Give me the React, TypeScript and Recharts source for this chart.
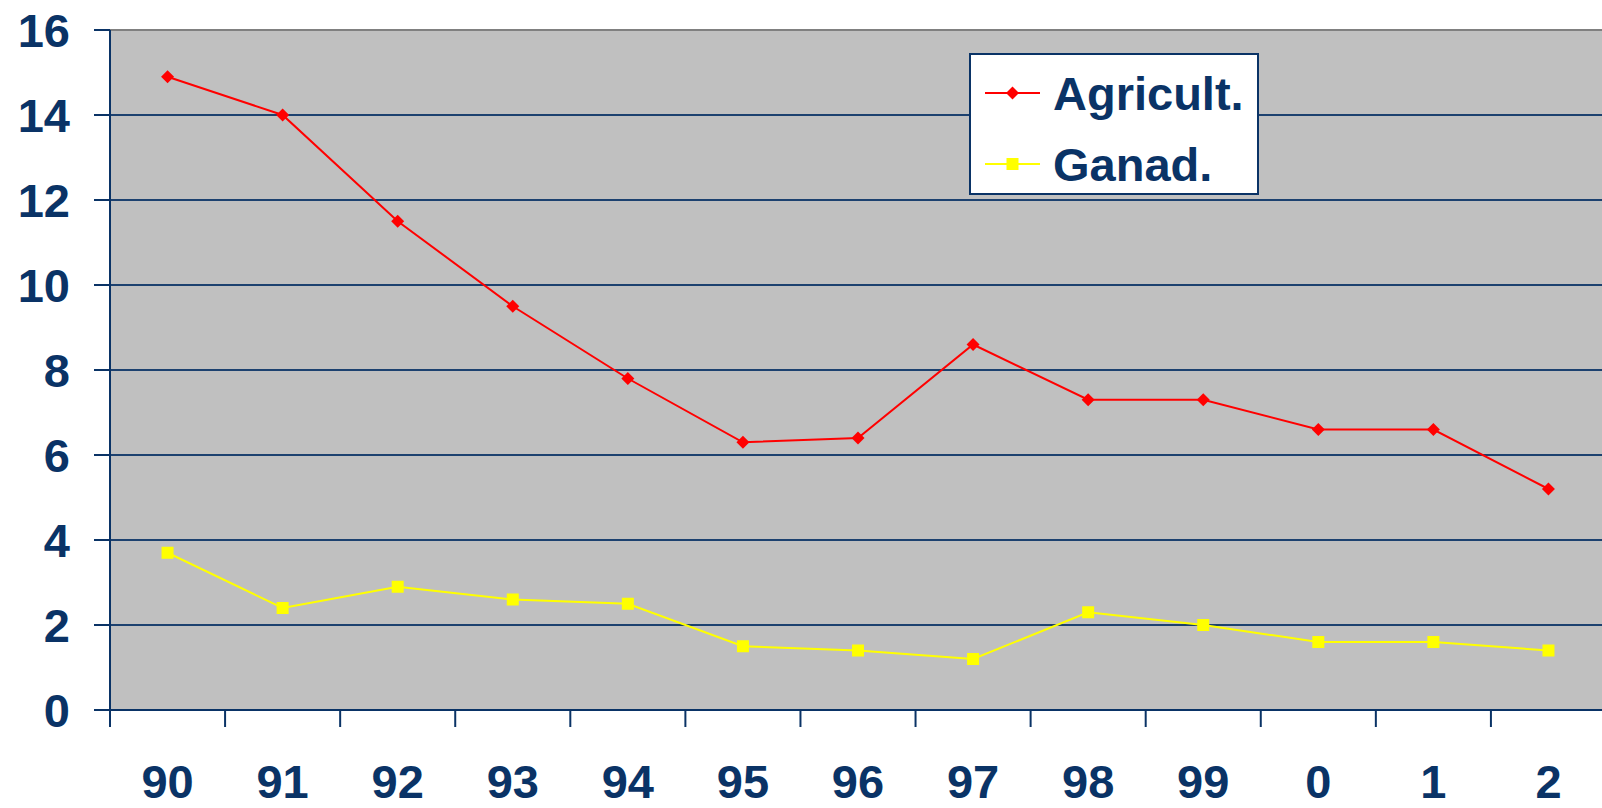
import React from 'react'
import { LineChart, Line, XAxis, YAxis, CartesianGrid, ReferenceLine } from 'recharts'

const years = ['90', '91', '92', '93', '94', '95', '96', '97', '98', '99', '0', '1', '2']
const agricult = [14.9, 14.0, 11.5, 9.5, 7.8, 6.3, 6.4, 8.6, 7.3, 7.3, 6.6, 6.6, 5.2]
const ganad = [3.7, 2.4, 2.9, 2.6, 2.5, 1.5, 1.4, 1.2, 2.3, 2.0, 1.6, 1.6, 1.4]
const yTicks = [0, 2, 4, 6, 8, 10, 12, 14, 16]
const seriesNames = ['Agricult.', 'Ganad.']

const NAVY = '#0a3366'
const FONT = '"Liberation Sans", Arial, sans-serif'
const W = 1602
const H = 808
const LEFT = 110
const RIGHT = -4 // plot runs slightly past the right edge, as in the original
const band = (W - LEFT - RIGHT) / years.length

const chartData = years.map((y, i) => ({ year: y, agricult: agricult[i], ganad: ganad[i] }))

const DiamondDot = (props: any) => {
  const { cx, cy, index } = props
  const r = 6.5
  return (
    <polygon
      key={`d-${index}`}
      points={`${cx},${cy - r} ${cx + r},${cy} ${cx},${cy + r} ${cx - r},${cy}`}
      fill="#ff0000"
    />
  )
}

const SquareDot = (props: any) => {
  const { cx, cy, index } = props
  return <rect key={`s-${index}`} x={cx - 6} y={cy - 6} width={12} height={12} fill="#ffff00" />
}

// labels centred on category, tick marks on category boundaries
const XTick = (props: any) => {
  const { x, y, payload } = props
  const bx = x - band / 2
  return (
    <g>
      <line x1={bx} y1={y} x2={bx} y2={y + 17} stroke={NAVY} strokeWidth={2} />
      <text x={x} y={y + 88} textAnchor="middle" fill={NAVY} fontSize={47} fontWeight="bold" fontFamily={FONT}>
        {payload.value}
      </text>
    </g>
  )
}

const LegendBox = () => (
  <svg width={290} height={142}>
    <rect x={1} y={1} width={288} height={140} fill="#ffffff" stroke={NAVY} strokeWidth={2} />
    <line x1={16} y1={40} x2={71} y2={40} stroke="#ff0000" strokeWidth={2} />
    <polygon points="43.5,33.5 50,40 43.5,46.5 37,40" fill="#ff0000" />
    <text x={84} y={57} fill={NAVY} fontSize={47} fontWeight="bold" fontFamily={FONT}>{seriesNames[0]}</text>
    <line x1={16} y1={111} x2={71} y2={111} stroke="#ffff00" strokeWidth={2} />
    <rect x={37.5} y={105} width={12} height={12} fill="#ffff00" />
    <text x={84} y={128} fill={NAVY} fontSize={47} fontWeight="bold" fontFamily={FONT}>{seriesNames[1]}</text>
  </svg>
)

export default function App() {
  return (
    <div style={{ position: 'absolute', left: 0, top: 0, width: W, height: H, background: '#fff', overflow: 'hidden' }}>
      <LineChart width={W} height={H} data={chartData} margin={{ top: 30, right: RIGHT, left: 0, bottom: 0 }}>
        <CartesianGrid vertical={false} fill="#c0c0c0" stroke={NAVY} strokeWidth={2} strokeOpacity={0.9} />
        <ReferenceLine y={16} stroke="#808080" strokeWidth={2} />
        <XAxis
          dataKey="year"
          scale="band"
          height={98}
          axisLine={{ stroke: NAVY, strokeWidth: 2 }}
          tickLine={false}
          tickSize={0}
          tickMargin={0}
          tick={<XTick />}
          interval={0}
        />
        <YAxis
          width={LEFT}
          domain={[0, 16]}
          ticks={yTicks}
          interval={0}
          axisLine={{ stroke: NAVY, strokeWidth: 2 }}
          tickLine={{ stroke: NAVY, strokeWidth: 2 }}
          tickSize={16}
          tickMargin={24}
          tick={{ fill: NAVY, fontSize: 47, fontWeight: 'bold', fontFamily: FONT }}
        />
        <Line
          type="linear"
          dataKey="agricult"
          name={seriesNames[0]}
          stroke="#ff0000"
          strokeWidth={2}
          dot={DiamondDot}
          activeDot={false}
          isAnimationActive={false}
        />
        <Line
          type="linear"
          dataKey="ganad"
          name={seriesNames[1]}
          stroke="#ffff00"
          strokeWidth={2}
          dot={SquareDot}
          activeDot={false}
          isAnimationActive={false}
        />
      </LineChart>
      <div style={{ position: 'absolute', left: 969, top: 53, width: 290, height: 142 }}>
        <LegendBox />
      </div>
    </div>
  )
}
